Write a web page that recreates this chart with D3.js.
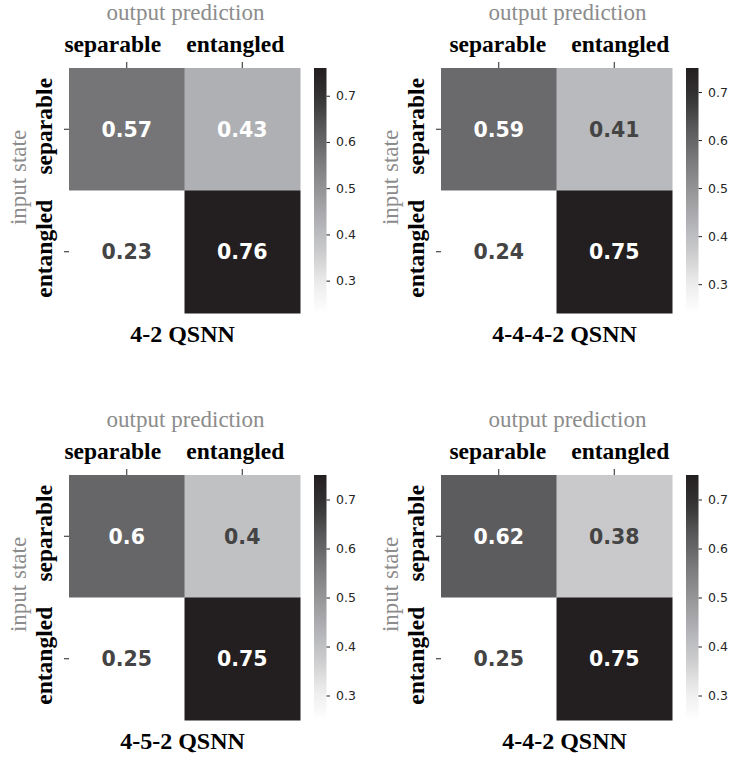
<!DOCTYPE html>
<html>
<head>
<meta charset="utf-8">
<script src="https://cdn.jsdelivr.net/npm/d3@7"></script>
<style>
  body { margin: 0; background: #fff; }
  svg { display: block; }
</style>
</head>
<body>
<div id="chart"></div>
<script>
// confusion matrices, rows = input state, cols = output prediction
var categories = ["separable", "entangled"];
var values_4_2 = [[0.57, 0.43], [0.23, 0.76]];
var values_4_4_4_2 = [[0.59, 0.41], [0.24, 0.75]];
var values_4_5_2 = [[0.6, 0.4], [0.25, 0.75]];
var values_4_4_2 = [[0.62, 0.38], [0.25, 0.75]];
var titles = ["4-2 QSNN", "4-4-4-2 QSNN", "4-5-2 QSNN", "4-4-2 QSNN"];
var cbar_ticks = [0.3, 0.4, 0.5, 0.6, 0.7];

var panels = [
    { values: values_4_2, title: titles[0], ox: 69, oy: 68, shift: 0 },
    { values: values_4_4_4_2, title: titles[1], ox: 441, oy: 68, shift: 10 },
    { values: values_4_5_2, title: titles[2], ox: 69, oy: 475, shift: 0 },
    { values: values_4_4_2, title: titles[3], ox: 441, oy: 475, shift: 10 }
];

var width = 731, height = 763;
var hm_w = 231, hm_h = 245;

var greys = d3.piecewise(d3.interpolateRgb, ["#ffffff", "#ececec", "#cbcbcd", "#b0b1b5", "#959597", "#79797c", "#5a5a5c", "#363435", "#231f20"]);

var svg = d3.select("#chart").append("svg")
    .attr("width", width)
    .attr("height", height);

var defs = svg.append("defs");

panels.forEach(function(p, i) {
    var flat = d3.merge(p.values);
    var color = d3.scaleSequential(greys).domain(d3.extent(flat));

    var x = d3.scaleBand().domain(categories).range([0, hm_w]);
    var y = d3.scaleBand().domain(categories).range([0, hm_h]);

    var g = svg.append("g").attr("transform", "translate(" + p.ox + "," + p.oy + ")");

    var cells = [];
    p.values.forEach(function(row, r) {
        row.forEach(function(v, c) {
            cells.push({ row: categories[r], col: categories[c], value: v });
        });
    });

    g.selectAll("rect.cell")
        .data(cells)
        .enter().append("rect")
        .attr("class", "cell")
        .attr("x", function(d) { return x(d.col); })
        .attr("y", function(d) { return y(d.row); })
        .attr("width", x.bandwidth() + 0.5)
        .attr("height", y.bandwidth() + 0.5)
        .attr("fill", function(d) { return color(d.value); });

    var lo = color.domain()[0], hi = color.domain()[1];
    g.selectAll("text.annot")
        .data(cells)
        .enter().append("text")
        .attr("class", "annot")
        .attr("x", function(d) { return x(d.col) + x.bandwidth() / 2; })
        .attr("y", function(d) { return y(d.row) + y.bandwidth() / 2; })
        .attr("dy", "0.36em")
        .attr("text-anchor", "middle")
        .style("font-family", "DejaVu Sans")
        .style("font-weight", "bold")
        .style("font-size", "20.5px")
        .style("fill", function(d) { return (d.value - lo) / (hi - lo) > 0.35 ? "#ffffff" : "#444444"; })
        .text(function(d) { return String(d.value); });

    // top axis
    var xa = g.append("g").call(d3.axisTop(x).tickSize(6).tickPadding(10));
    xa.select(".domain").remove();
    xa.selectAll(".tick line").attr("stroke", "#222").attr("stroke-width", 1);
    xa.selectAll(".tick text")
        .attr("y", -16)
        .attr("dy", 0)
        .attr("dx", function(d, k) { return (k === 0 ? -14 : -7) + p.shift * 1.3; })
        .style("font-family", "Liberation Serif")
        .style("font-weight", "bold")
        .style("font-size", "23.5px")
        .style("fill", "#000");

    // left axis
    var ya = g.append("g").call(d3.axisLeft(y).tickSize(5));
    ya.select(".domain").remove();
    ya.selectAll(".tick line").attr("stroke", "#222").attr("stroke-width", 1);
    ya.selectAll(".tick text")
        .attr("x", 0)
        .attr("dy", 0)
        .attr("text-anchor", "middle")
        .attr("transform", "translate(-17,-3) rotate(-90)")
        .style("font-family", "Liberation Serif")
        .style("font-weight", "bold")
        .style("font-size", "23.5px")
        .style("fill", "#000");

    g.append("text")
        .attr("x", hm_w / 2 + 1 + p.shift)
        .attr("y", -48)
        .attr("text-anchor", "middle")
        .style("font-family", "Liberation Serif")
        .style("font-size", "23px")
        .style("fill", "#8c8c8c")
        .text("output prediction");

    g.append("text")
        .attr("transform", "translate(-43," + (hm_h / 2 - 13) + ") rotate(-90)")
        .attr("text-anchor", "middle")
        .style("font-family", "Liberation Serif")
        .style("font-size", "23px")
        .style("fill", "#8c8c8c")
        .text("input state");

    g.append("text")
        .attr("x", hm_w / 2 - 2 + p.shift)
        .attr("y", hm_h + 29)
        .attr("text-anchor", "middle")
        .style("font-family", "Liberation Serif")
        .style("font-weight", "bold")
        .style("font-size", "24px")
        .style("fill", "#000")
        .text(p.title);

    // colorbar
    var gid = "cbar" + i;
    var grad = defs.append("linearGradient")
        .attr("id", gid)
        .attr("x1", 0).attr("y1", 1).attr("x2", 0).attr("y2", 0);
    d3.range(0, 1.0001, 0.05).forEach(function(t) {
        grad.append("stop")
            .attr("offset", t)
            .attr("stop-color", greys(t));
    });

    var cb = g.append("g").attr("transform", "translate(" + (hm_w + 14) + ",0)");
    var cy = d3.scaleLinear().domain(color.domain()).range([hm_h, 0]);
    cb.append("rect")
        .attr("width", 12.5)
        .attr("height", hm_h)
        .attr("fill", "url(#" + gid + ")");

    var ca = cb.append("g").attr("transform", "translate(12.5,0)")
        .call(d3.axisRight(cy).tickValues(cbar_ticks).tickSize(3.5).tickPadding(6).tickFormat(d3.format(".1f")));
    ca.select(".domain").remove();
    ca.selectAll(".tick line").attr("stroke", "#222");
    ca.selectAll(".tick text")
        .style("font-family", "DejaVu Sans")
        .style("font-size", "12.5px")
        .style("fill", "#262626");
});
</script>
</body>
</html>
